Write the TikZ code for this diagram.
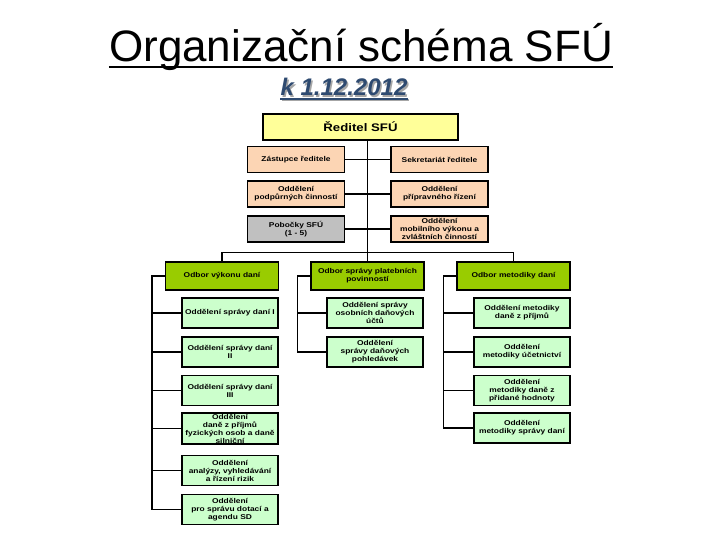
\documentclass[tikz,border=0pt]{standalone}
\usepackage{fontspec}
\usepackage{xcolor}
\usepackage{tikz}
\usetikzlibrary{positioning,calc}
\setmainfont{Liberation Sans}
\newfontfamily\boxfont[FakeStretch=1.2]{Liberation Sans}
\definecolor{headfill}{RGB}{255,255,153}
\definecolor{staffill}{RGB}{252,213,180}
\definecolor{branchfill}{RGB}{192,192,192}
\definecolor{odborfill}{RGB}{153,204,0}
\definecolor{deptfill}{RGB}{204,255,204}
\definecolor{datetext}{RGB}{46,74,112}

\tikzset{
  orgbox/.style={draw=black, line width=1.5pt, align=center, inner sep=1pt,
    font=\boxfont\bfseries\fontsize{7}{8}\selectfont},
  headbox/.style={orgbox, fill=headfill, minimum width=195pt, minimum height=26pt,
    font=\boxfont\bfseries\fontsize{11}{12}\selectfont},
  staffbox/.style={orgbox, fill=staffill, minimum width=97pt, minimum height=26pt},
  branchbox/.style={staffbox, fill=branchfill},
  odborbox/.style={orgbox, fill=odborfill, minimum width=113pt, minimum height=28pt},
  deptbox/.style={orgbox, fill=deptfill, minimum width=96pt, minimum height=30pt},
  link/.style={draw=black, line width=1.5pt}
}

\begin{document}
\begin{tikzpicture}[x=1pt, y=-1pt]
    \useasboundingbox (0,0) rectangle (720,540);

    % title
    \node[anchor=base, inner sep=0pt, font=\fontsize{44}{44}\selectfont] (title) at (361,62) {Organizační schéma SFÚ};
    \draw[line width=2.5pt] ([yshift=-5pt]title.base west) -- ([yshift=-5pt]title.base east);
    \node[anchor=base, inner sep=0pt, text=black!35, font=\bfseries\itshape\fontsize{24}{24}\selectfont] (dateshadow) at (345.5,97.5) {k 1.12.2012};
    \draw[line width=2pt, black!35] ([yshift=-3pt]dateshadow.base west) -- ([yshift=-3pt]dateshadow.base east);
    \node[anchor=base, inner sep=0pt, text=datetext, font=\bfseries\itshape\fontsize{24}{24}\selectfont] (date) at (344,96) {k 1.12.2012};
    \draw[line width=2pt, datetext] ([yshift=-3pt]date.base west) -- ([yshift=-3pt]date.base east);

    % vedeni
    \node[headbox] (reditel) at (360.5,127) {Ředitel SFÚ};
    \node[staffbox] (zastupce) at (296,159.5) {Zástupce ředitele};
    \node[staffbox] (sekretariat) at (439.5,159.5) {Sekretariát ředitele};
    \node[staffbox] (podpurne) at (296,194) {Oddělení\\podpůrných činností};
    \node[staffbox] (pripravne) at (439.5,194) {Oddělení\\přípravného řízení};
    \node[branchbox] (pobocky) at (296,229) {Pobočky SFÚ\\(1 - 5)};
    \node[staffbox] (mobilni) at (439.5,229) {Oddělení\\mobilního výkonu a\\zvláštních činností};

    % odbory
    \node[odborbox] (vykon) at (222,276) {Odbor výkonu daní};
    \node[odborbox] (platby) at (367.5,276) {Odbor správy platebních\\povinností};
    \node[odborbox] (metodika) at (513.5,276) {Odbor metodiky daní};

    % oddeleni
    \node[deptbox] (vyk1) at (230,313) {Oddělení správy daní I};
    \node[deptbox] (vyk2) at (230,352) {Oddělení správy daní\\II};
    \node[deptbox] (vyk3) at (230,390.5) {Oddělení správy daní\\III};
    \node[deptbox, minimum height=31pt] (vyk4) at (230,428.5) {Oddělení\\daně z příjmů\\fyzických osob a daně\\silniční};
    \node[deptbox] (vyk5) at (230,470.5) {Oddělení\\analýzy, vyhledávání\\a řízení rizik};
    \node[deptbox] (vyk6) at (230,509.5) {Oddělení\\pro správu dotací a\\agendu SD};

    \node[deptbox] (plat1) at (375,313) {Oddělení správy\\osobních daňových\\účtů};
    \node[deptbox] (plat2) at (375,352) {Oddělení\\správy daňových\\pohledávek};

    \node[deptbox] (met1) at (522,313) {Oddělení metodiky\\daně z příjmů};
    \node[deptbox] (met2) at (522,352) {Oddělení\\metodiky účetnictví};
    \node[deptbox] (met3) at (522,390.5) {Oddělení\\metodiky daně z\\přidané hodnoty};
    \node[deptbox] (met4) at (522,428) {Oddělení\\metodiky správy daní};

    % spojnice
    \draw[link] (platby.north |- reditel.south) -- (platby.north);
    \draw[link] (zastupce.east) -- (sekretariat.west);
    \draw[link] (podpurne.east) -- (pripravne.west);
    \draw[link] (pobocky.east) -- (mobilni.west);
    \draw[link] (vykon.north) |- ([yshift=9pt]platby.north) -| (metodika.north);
    \foreach \d in {vyk1,vyk2,vyk3,vyk4,vyk5,vyk6}
        \draw[link] (vykon.west) -- ++(-13,0) |- (\d.west);
    \foreach \d in {plat1,plat2}
        \draw[link] (platby.west) -- ++(-13,0) |- (\d.west);
    \foreach \d in {met1,met2,met3,met4}
        \draw[link] (metodika.west) -- ++(-13,0) |- (\d.west);
\end{tikzpicture}
\end{document}
